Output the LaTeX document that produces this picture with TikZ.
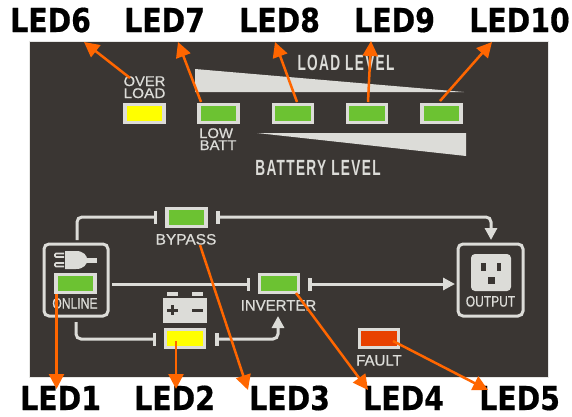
\documentclass[tikz,border=0pt]{standalone}
\usepackage{fontspec}
\setmainfont{Liberation Sans}
\usetikzlibrary{arrows.meta}
\newfontfamily\ledfont[FakeStretch=0.86,FakeBold=0.4]{DejaVu Sans Bold}
\newfontfamily\narrowfont[FakeStretch=0.62,LetterSpace=6]{Liberation Sans Bold}
\newfontfamily\smallfont[FakeBold=0.7]{Liberation Sans}
\definecolor{panel}{HTML}{3A3633}
\definecolor{pale}{HTML}{DCDCD8}
\definecolor{ledgreen}{HTML}{6CC232}
\definecolor{ledyellow}{HTML}{FFFF00}
\definecolor{ledred}{HTML}{E84100}
\definecolor{callout}{HTML}{FF6600}
\tikzset{
  ledbox/.style={draw=pale,line width=3.2pt,minimum width=39pt,minimum height=18pt,inner sep=0pt,fill=#1},
  ledname/.style={font=\ledfont\fontsize{33}{33}\selectfont,anchor=base west,inner sep=0pt,text=black,text height=24pt,text depth=0pt},
  smalltext/.style={font=\smallfont\fontsize{14}{14}\selectfont,text=pale,inner sep=0pt,text height=10pt,text depth=0pt},
  largertext/.style={font=\smallfont\fontsize{15}{15}\selectfont,text=pale,inner sep=0pt,text height=11pt,text depth=0pt},
  leveltext/.style={font=\narrowfont\fontsize{22}{22}\selectfont,text=pale,inner sep=0pt,text height=16pt,text depth=0pt},
  wire/.style={draw=pale,line width=3pt,rounded corners=5pt},
  barend/.style={-{Rectangle[length=3.5pt,width=13pt]}},
  bararrow/.style={{Rectangle[length=3.5pt,width=13pt]}-{Triangle[length=12pt,width=12pt]}},
  callarrow/.style={draw=callout,line width=2.5pt,-{Triangle[length=15pt,width=15pt]}},
  iconbox/.style={draw=pale,line width=3pt,rounded corners=5pt,fill=none},
}
\begin{document}
\begin{tikzpicture}[x=1pt,y=-1pt]
\useasboundingbox (0,0) rectangle (572,416);
\fill[white] (0,0) rectangle (572,416);
\draw[draw=pale!70!white,line width=1pt,fill=panel] (29,41) rectangle (548,377);

% level wedges
\fill[pale] (195,69) -- (464,92) -- (195,92) -- cycle;
\fill[pale] (257,133) -- (466,133) -- (466,156) -- cycle;
\node[leveltext] (loadlevel) at (346,62) {LOAD LEVEL};
\node[leveltext] (battlevel) at (318,167) {BATTERY LEVEL};

% LEDs
\node[ledbox=ledyellow] (overload) at (144.5,113.5) {};
\node[ledbox=ledgreen] (lowbatt) at (218.5,113.5) {};
\node[ledbox=ledgreen] (l8) at (293,113.5) {};
\node[ledbox=ledgreen] (l9) at (367,113.5) {};
\node[ledbox=ledgreen] (l10) at (441.5,113.5) {};
\node[ledbox=ledgreen] (bypass) at (186.5,217.5) {};
\node[ledbox=ledgreen] (online) at (75.5,283.5) {};
\node[ledbox=ledgreen] (inverter) at (279,283.5) {};
\node[ledbox=ledyellow] (battery) at (185,338.5) {};
\node[ledbox=ledred] (fault) at (379,338.5) {};

% small labels
\node[smalltext] (t1) at (144.5,81) {\scalebox{1.05}[1]{OVER}};
\node[smalltext] (t2) at (144.5,93) {\scalebox{1.1}[1]{LOAD}};
\node[smalltext,anchor=west] (t3) at (199,133) {\scalebox{1.06}[1]{LOW}};
\node[smalltext,anchor=west] (t4) at (199.5,145) {\scalebox{1.06}[1]{BATT}};
\node[largertext] (t5) at (186,239) {\scalebox{1.03}[1]{BYPASS}};
\node[largertext] (t6) at (75,303) {\scalebox{.81}[1]{ONLINE}};
\node[largertext] (t7) at (278.5,305) {INVERTER};
\node[largertext] (t8) at (490.5,301) {\scalebox{.8}[1]{OUTPUT}};
\node[largertext] (t9) at (379,360) {FAULT};

% online icon box
\draw[iconbox] (44,244) rectangle (108,316);
\fill[pale] (65,251) -- (76,251) .. controls (91,251) and (91,269) .. (76,269) -- (65,269) -- cycle;
\fill[pale] (84,258) rectangle (97,262.5);
\draw[pale,line width=1.6pt,rounded corners=1pt] (64,253.5) -- (55,253.5) -- (55,257) -- (64,257);
\draw[pale,line width=1.6pt,rounded corners=1pt] (64,263) -- (55,263) -- (55,266.5) -- (64,266.5);

% output icon box
\draw[iconbox] (458,244) rectangle (523,316);
\fill[pale,rounded corners=4pt] (471,254) rectangle (511,291);
\fill[panel] (481,263) rectangle (486,271);
\fill[panel] (497,263) rectangle (501,271);
\fill[panel] (488,277) rectangle (495,284);

% battery icon
\fill[pale] (163,298) rectangle (207,323);
\fill[pale] (167,292) rectangle (178,296);
\fill[pale] (192,292) rectangle (203,296);
\fill[panel] (167,308.5) rectangle (178,311.5);
\fill[panel] (171,305) rectangle (174,315);
\fill[panel] (192,308.5) rectangle (203,311.5);

% wires
\coordinate (w1s) at (77,240);
\coordinate (w1e) at (157,217);
\coordinate (w2s) at (216,217);
\coordinate (w2e) at (491,240);
\coordinate (w3s) at (112,284);
\coordinate (w3e) at (250,284);
\coordinate (w4s) at (308,284);
\coordinate (w4e) at (455,284);
\coordinate (w5s) at (76,322);
\coordinate (w5e) at (156,339);
\coordinate (w6s) at (215,339);
\coordinate (w6e) at (278,316);
\draw[wire,barend] (w1s) |- (w1e);
\draw[wire,bararrow] (w2s) -| (w2e);
\draw[wire,barend] (w3s) -- (w3e);
\draw[wire,bararrow] (w4s) -- (w4e);
\draw[wire,barend] (w5s) |- (w5e);
\draw[wire,bararrow] (w6s) -| (w6e);

% LED names
\node[ledname] (led6) at (10,32) {LED6};
\node[ledname] (led7) at (124,32) {LED7};
\node[ledname] (led8) at (239,32) {LED8};
\node[ledname] (led9) at (354,32) {LED9};
\node[ledname] (led10) at (469,32) {LED10};
\node[ledname] (led1) at (20,410) {LED1};
\node[ledname] (led2) at (134,410) {LED2};
\node[ledname] (led3) at (249,410) {LED3};
\node[ledname] (led4) at (363,410) {LED4};
\node[ledname] (led5) at (479,410) {LED5};

% callouts
\coordinate (a6) at (130,78);   \coordinate (b6) at (84,42);
\coordinate (a7) at (201,102);  \coordinate (b7) at (178,42);
\coordinate (a8) at (297,102);  \coordinate (b8) at (275,42);
\coordinate (a9) at (368,102);  \coordinate (b9) at (371,41);
\coordinate (a10) at (440,101); \coordinate (b10) at (492,42);
\coordinate (a1) at (56.5,294); \coordinate (b1) at (56.5,389);
\coordinate (a2) at (176,341);  \coordinate (b2) at (176,389);
\coordinate (a3) at (200,245);  \coordinate (b3) at (248,390);
\coordinate (a4) at (296,293);  \coordinate (b4) at (368,390);
\coordinate (a5) at (393,341);  \coordinate (b5) at (488,390);
\foreach \i in {1,...,10} {\draw[callarrow] (a\i) -- (b\i);}
\end{tikzpicture}
\end{document}
